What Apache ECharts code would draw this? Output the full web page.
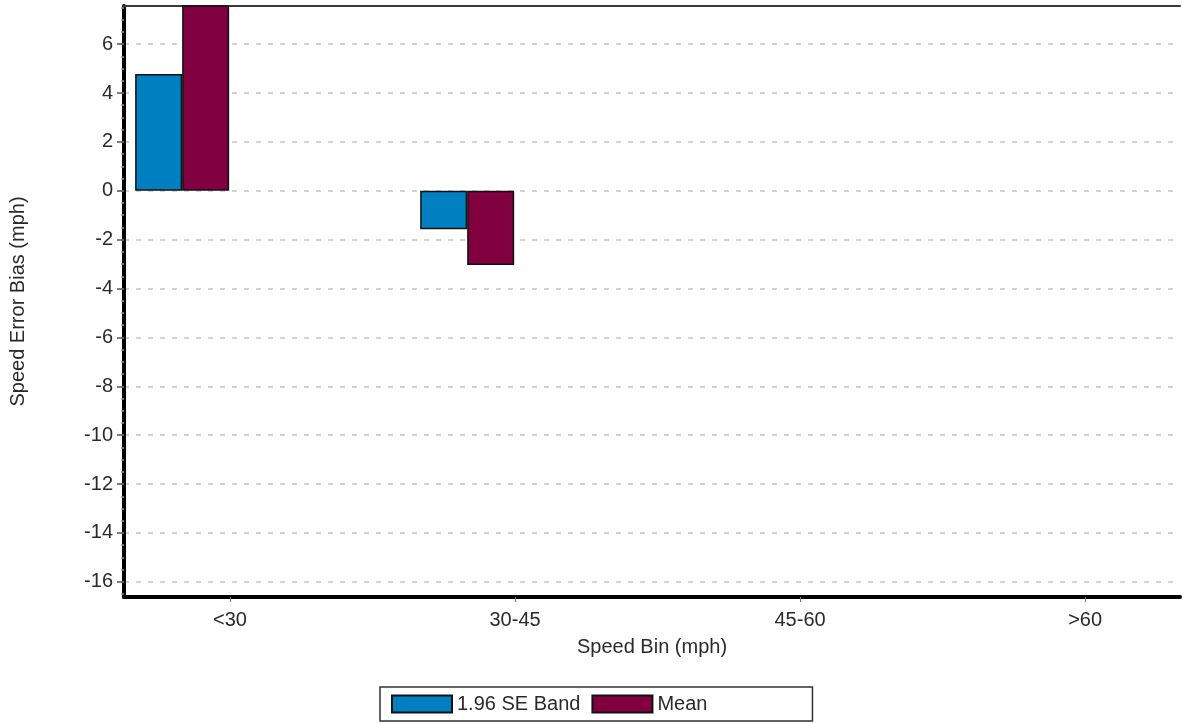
<!DOCTYPE html>
<html>
<head>
<meta charset="utf-8">
<script src="https://cdn.jsdelivr.net/npm/echarts@6/dist/echarts.min.js"></script>
<style>
  html, body { margin: 0; padding: 0; background: #ffffff; }
  #chart { width: 1182px; height: 723px; }
</style>
</head>
<body>
<div id="chart"></div>
<script>
// Speed bins along the horizontal axis
const categories = ['<30', '30-45', '45-60', '>60'];
// Speed error bias per bin (mph); empty bins have no bar
const seBandValues = [4.78, -1.57, null, null];
const meanValues = [8.0, -3.04, null, null];
// Labelled ticks on the bias axis
const yTickValues = [-16, -14, -12, -10, -8, -6, -4, -2, 0, 2, 4, 6];

const FONT = "'Liberation Sans', Arial, sans-serif";
const TEXT = '#2a2a2a';
const Y_MIN = -16.62, Y_MAX = 7.56;
const X_MIN = -0.372, X_MAX = 3.333;
const BAR_W = 47;
// each bin's bar pair sits just left of its tick, so the group centre is shifted by one bar width
const GROUP_SHIFT = 0.168;

const catIndex = categories.map((c, i) => i);
const minorTicks = [];
for (let v = -16.5; v <= Y_MAX; v += 0.5) minorTicks.push(v);

const toPoints = vals => categories.map((c, i) => [i - GROUP_SHIFT, vals[i]]);

const chart = echarts.init(document.getElementById('chart'), null, { renderer: 'canvas' });
chart.setOption({
  backgroundColor: '#ffffff',
  animation: false,
  textStyle: { fontFamily: FONT },
  grid: { left: 124, right: 2, top: 6, bottom: 126, outerBoundsMode: 'none', containLabel: false },
  legend: {
    data: ['1.96 SE Band', 'Mean'],
    left: 380, top: 687,
    orient: 'horizontal',
    icon: 'rect',
    itemWidth: 60, itemHeight: 17, itemGap: 11,
    padding: [7, 105, 7, 11],
    borderColor: '#333333', borderWidth: 1.5,
    textStyle: { fontFamily: FONT, fontSize: 20, color: TEXT }
  },
  xAxis: [
    {
      type: 'value', min: X_MIN, max: X_MAX, position: 'bottom',
      name: 'Speed Bin (mph)', nameLocation: 'middle', nameGap: 40,
      nameTextStyle: { fontFamily: FONT, fontSize: 20, color: TEXT },
      axisLine: { show: true, onZero: false, lineStyle: { color: '#000000', width: 4 } },
      axisTick: { show: true, customValues: catIndex, length: 5, lineStyle: { color: '#777777', width: 1 } },
      axisLabel: {
        customValues: catIndex, margin: 13, fontFamily: FONT, fontSize: 20, color: TEXT,
        formatter: v => categories[Math.round(v)]
      },
      splitLine: { show: false }
    },
    {
      type: 'value', min: X_MIN, max: X_MAX, position: 'top',
      axisLine: { show: true, onZero: false, lineStyle: { color: '#3a3a3a', width: 2 } },
      axisTick: { show: false }, axisLabel: { show: false }, splitLine: { show: false }
    }
  ],
  yAxis: [
    {
      // half-unit minor ticks along the bias axis
      type: 'value', min: Y_MIN, max: Y_MAX, position: 'left',
      axisLine: { show: false, onZero: false },
      axisTick: { show: true, customValues: minorTicks, length: 3, lineStyle: { color: '#999999', width: 1.5 } },
      axisLabel: { show: false }, splitLine: { show: false }
    },
    {
      type: 'value', min: Y_MIN, max: Y_MAX, position: 'left',
      name: 'Speed Error Bias (mph)', nameLocation: 'middle', nameGap: 96,
      nameTextStyle: { fontFamily: FONT, fontSize: 20, color: TEXT },
      axisLine: { show: true, onZero: false, lineStyle: { color: '#000000', width: 4 } },
      axisTick: { show: true, customValues: yTickValues, length: 7, lineStyle: { color: '#555555', width: 1.5 } },
      axisLabel: { customValues: yTickValues, margin: 11, fontFamily: FONT, fontSize: 20, color: TEXT },
      splitLine: { show: true, lineStyle: { type: [5, 7], color: '#c4c4c4', width: 1.5 } }
    }
  ],
  series: [
    {
      name: '1.96 SE Band', type: 'bar', xAxisIndex: 0, yAxisIndex: 1,
      barWidth: BAR_W, barGap: '0%',
      itemStyle: { color: '#0080c0', borderColor: '#111111', borderWidth: 1.5 },
      data: toPoints(seBandValues)
    },
    {
      name: 'Mean', type: 'bar', xAxisIndex: 0, yAxisIndex: 1,
      barWidth: BAR_W, barGap: '0%',
      itemStyle: { color: '#800040', borderColor: '#111111', borderWidth: 1.5 },
      data: toPoints(meanValues)
    }
  ]
});
</script>
</body>
</html>
